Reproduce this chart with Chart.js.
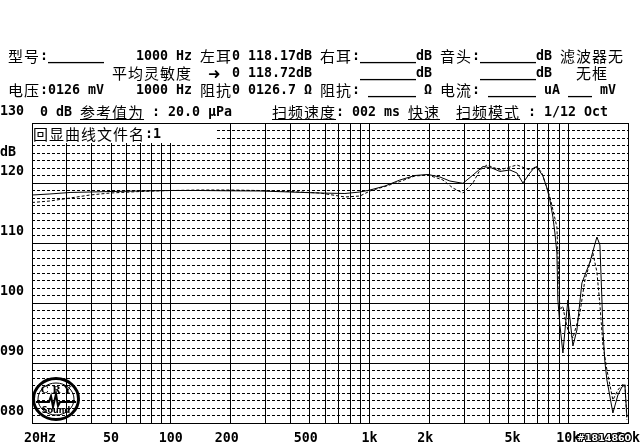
<!DOCTYPE html>
<html>
<head>
<meta charset="utf-8">
<script src="https://cdn.jsdelivr.net/npm/chart.js@4.4.1/dist/chart.umd.min.js"></script>
<style>
  html, body { margin:0; padding:0; background:#fff; }
  #wrap { position:relative; width:640px; height:448px; overflow:hidden; background:#fff; }
  #c { position:absolute; left:0; top:0; }
  #layer { position:absolute; left:0; top:0; width:640px; height:448px; pointer-events:none; }
  .asc, .cjk { position:absolute; white-space:pre; line-height:18px; height:18px; color:#000; }
  .asc { font-family:"DejaVu Sans Mono", monospace; font-weight:bold; font-size:13.3px; }
  .cjk { font-family:"Noto Sans CJK SC", "DejaVu Sans", sans-serif; font-size:15px; letter-spacing:1px; }
  .ul { text-decoration:underline; text-underline-offset:1px; }
  #box { position:absolute; left:33px; top:124px; width:182px; height:19px; background:#fff; }
  #wm { position:absolute; left:577px; top:432px; font-family:"DejaVu Sans", sans-serif; font-weight:bold; font-size:9.5px; color:#fff;
        text-shadow:1px 0 #000,-1px 0 #000,0 1px #000,0 -1px #000,1px 1px #000,-1px -1px #000,1px -1px #000,-1px 1px #000; }
</style>
</head>
<body>
<div id="wrap">
  <canvas id="c" width="640" height="448"></canvas>
  <div id="box"></div>
  <div id="layer"></div>
  <div id="wm">#1814860</div>
</div>
<script>
// ---- data ----
const freqSolid = [20,24.6,31.1,39.2,49.4,69.9,99,140,198,281,398,563,752,895,1005,1196,1422,1693,1968,2262,2539,2952,3316,3722,4130,4532,5088,5520,5918,6416,6800,7040,7458,7812,8090,8376,8572,8772,8874,9084,9406,9740,9966,10200,10562,11064,11722,12864,13950,14444,14784,14956,15306,15664,16790,17792,18634,19294,19748];
const dbSolid = [118.0,118.17,118.42,118.5,118.58,118.67,118.75,118.75,118.7,118.67,118.5,118.33,118.25,118.5,118.83,119.5,120.5,121.25,121.42,121.0,120.33,119.95,121.33,122.75,122.5,121.92,122.17,121.67,120.0,121.67,122.67,122.42,121.17,119.17,117.17,114.33,111.67,108.33,100.5,96.33,91.67,97.17,100.5,97.5,92.83,95.5,103.33,106.83,111.0,109.67,100.5,95.5,90.17,87.17,81.67,84.67,86.0,86.33,81.0];
const freqDash = [20,24.6,31.1,39.2,49.4,69.9,99,140,198,281,398,563,752,895,1005,1196,1422,1693,1968,2342,2628,2952,3316,3596,3900,4532,5088,5520,6416,6958,7374,8090,8772,9084,9406,9630,9966,10562,11454,12138,12864,13316,13950,14444,14956,15664,16790,17792,18634,19294,19748];
const dbDash = [116.75,117.0,117.5,118.0,118.33,118.58,118.75,118.83,118.83,118.75,118.58,118.33,117.67,117.83,118.67,119.42,120.25,121.17,121.33,120.5,119.17,118.33,120.0,122.17,123.0,122.17,122.67,123.0,122.17,122.75,121.67,117.67,112.67,98.83,99.5,97.5,95.5,94.17,98.33,103.83,106.67,108.33,105.17,99.67,93.0,88.83,83.83,85.5,86.33,86.5,80.5];

const xGridTicks = [20,30,40,50,60,70,80,90,100,200,300,400,500,600,700,800,900,1000,2000,3000,4000,5000,6000,7000,8000,9000,10000,20000];
const xLabelValues = [20,50,100,200,500,1000,2000,5000,10000,20000];
const xLabelTexts = ['  20Hz','50','100','200 ','500 ','1k','2k ',' 5k','10k','20k'];
const yMajorTicks = [80,90,100,110,120,130];
const yLabelTexts = ['080','090','100','110','120','130'];
const yMinorStep = 1.25;

// ---- header texts ----
const texts = [
  [8,56,'型号:_______'],
  [136,56,'1000 Hz'],
  [200,56,'左耳0 118.17dB'],
  [320,56,'右耳:_______dB'],
  [440,56,'音头:_______dB'],
  [560,56,'滤波器无'],
  [112,73,'平均灵敏度'],
  [208,73,'➜ 0 118.72dB'],
  [360,73,'_______dB'],
  [480,73,'_______dB'],
  [576,73,'无框'],
  [8,90,'电压:0126 mV'],
  [136,90,'1000 Hz'],
  [200,90,'阻抗0 0126.7 Ω'],
  [320,90,'阻抗: ______ Ω'],
  [440,90,'电流: ______ uA ___ mV'],
  [40,112,'0 dB 参考值为 : 20.0 μPa', true],
  [272,112,'扫频速度: 002 ms 快速  扫频模式 : 1/12 Oct', true],
  [0,152,'dB'],
  [33,134,'回显曲线文件名:1']
];

const layer = document.getElementById('layer');
function isWide(ch){ const c = ch.codePointAt(0); return c >= 0x2E80 || c === 0x279C; }
function place(x, yc, text, ul){
  let cx = x, i = 0;
  while (i < text.length){
    const w = isWide(text[i]);
    let j = i; while (j < text.length && isWide(text[j]) === w) j++;
    const run = text.slice(i, j);
    const s = document.createElement('span');
    s.textContent = run;
    s.className = (w ? 'cjk' : 'asc') + (ul && w ? ' ul' : '');
    s.style.left = cx + 'px';
    s.style.top = (yc - 9) + 'px';
    layer.appendChild(s);
    cx += run.length * (w ? 16 : 8);
    i = j;
  }
}
texts.forEach(t => place(t[0], t[1], t[2], t[3]));

// ---- chart ----
const tickFont = { family:'"DejaVu Sans Mono", monospace', size:13.3, weight:'bold' };
const minorTicks = [];
for (let v = 80; v <= 130 + 1e-9; v += yMinorStep) minorTicks.push(+v.toFixed(2));

const logoPlugin = {
  id:'logo',
  afterDraw(chart){
    const ctx = chart.ctx;
    ctx.save();
    ctx.strokeStyle = '#000'; ctx.fillStyle = '#000';
    ctx.lineWidth = 3;
    ctx.beginPath(); ctx.ellipse(56, 399, 22.5, 20.5, 0, 0, Math.PI*2); ctx.stroke();
    ctx.lineWidth = 1;
    ctx.beginPath(); ctx.ellipse(56, 399, 18, 16, 0, 0, Math.PI*2); ctx.stroke();
    ctx.textAlign = 'center'; ctx.textBaseline = 'middle';
    ctx.font = 'bold 10px "DejaVu Serif", serif';
    ctx.fillText('C R Y', 56, 390);
    ctx.font = 'bold 8px "DejaVu Sans", sans-serif';
    ctx.fillText('Sound', 56, 411);
    ctx.lineWidth = 2;
    ctx.beginPath();
    ctx.moveTo(36, 402); ctx.lineTo(49, 402); ctx.lineTo(51, 396); ctx.lineTo(53, 407);
    ctx.lineTo(56, 394); ctx.lineTo(58, 406); ctx.lineTo(60, 402); ctx.lineTo(76, 402);
    ctx.stroke();
    ctx.restore();
  }
};

new Chart(document.getElementById('c'), {
  type:'line',
  data:{
    datasets:[
      { data: freqSolid.map((f,i)=>({x:f, y:dbSolid[i]})), borderColor:'#000', borderWidth:1, pointRadius:0, tension:0, fill:false },
      { data: freqDash.map((f,i)=>({x:f, y:dbDash[i]})), borderColor:'#000', borderWidth:1, borderDash:[3,2], pointRadius:0, tension:0, fill:false }
    ]
  },
  options:{
    responsive:false, animation:false, devicePixelRatio:1,
    layout:{ padding:{ left:0, right:12, top:123, bottom:0 } },
    plugins:{ legend:{display:false}, tooltip:{enabled:false} },
    scales:{
      x:{
        type:'logarithmic', min:20, max:20000,
        afterBuildTicks: s => { s.ticks = xGridTicks.map(v => ({value:v})); },
        afterFit: s => { s.height = 25; s.paddingLeft = 0; s.paddingRight = 0; },
        ticks:{ autoSkip:false, maxRotation:0, minRotation:0, color:'#000', font:tickFont, padding:8,
          callback: v => { const k = xLabelValues.indexOf(v); return k >= 0 ? xLabelTexts[k] : ''; } },
        grid:{ color:'#000', lineWidth:1, drawTicks:false },
        border:{ color:'#000', width:1 }
      },
      y:{
        min:80, max:130, position:'left',
        afterBuildTicks: s => { s.ticks = yMajorTicks.map(v => ({value:v})); },
        afterFit: s => { s.width = 32; s.paddingTop = 0; s.paddingBottom = 0; },
        ticks:{ color:'#000', font:tickFont, crossAlign:'far', labelOffset:-11, padding:0,
          callback: v => { const k = yMajorTicks.indexOf(v); return k >= 0 ? yLabelTexts[k] : ''; } },
        grid:{ color:'#000', lineWidth:1, drawTicks:false },
        border:{ color:'#000', width:1 }
      },
      y2:{
        min:80, max:130, position:'left',
        afterBuildTicks: s => { s.ticks = minorTicks.map(v => ({value:v})); },
        afterFit: s => { s.width = 0; s.paddingTop = 0; s.paddingBottom = 0; },
        ticks:{ display:false },
        grid:{ drawTicks:false, lineWidth:1,
          color: c => (c.tick && Math.abs(c.tick.value % 10) < 1e-6) ? 'rgba(0,0,0,0)' : '#000' },
        border:{ display:false, dash:[3,2] }
      }
    }
  },
  plugins:[logoPlugin]
});
</script>
</body>
</html>
